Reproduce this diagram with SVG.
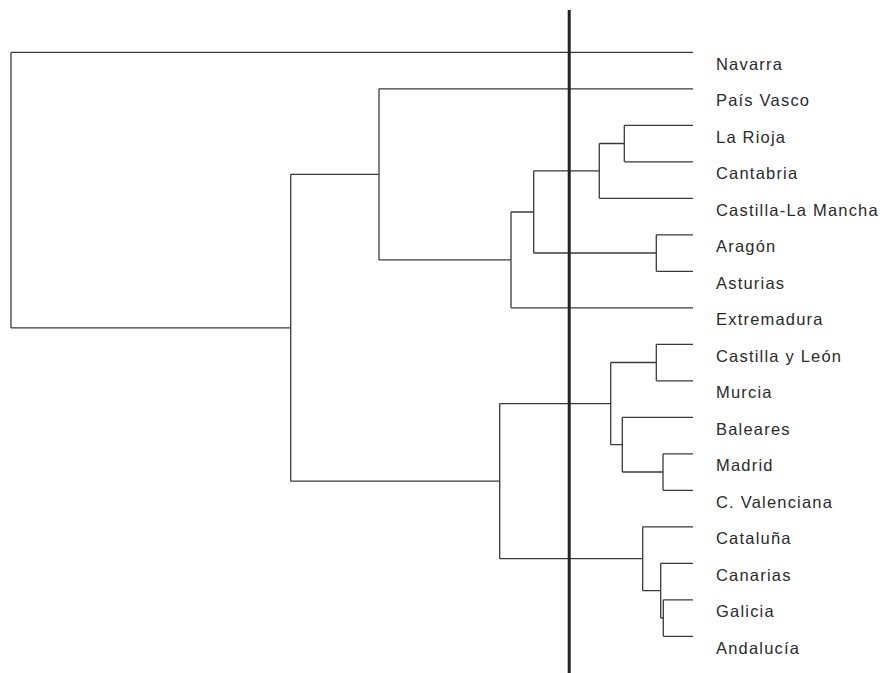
<svg xmlns="http://www.w3.org/2000/svg" width="884" height="673" viewBox="0 0 884 673">
<style>
.br{fill:none;stroke:#3a3a3a;stroke-width:1.3}
.cut{stroke:#222;stroke-width:3}
.lbl{font-family:"Liberation Sans",Arial,sans-serif;font-size:16.5px;letter-spacing:1.2px;fill:#2a2a2a}
</style>
<rect width="884" height="673" fill="#fff"/>
<g id="connectors">
<path class="br" d="M11,52.3H693 M379,88.8H693 M624.3,125.3H693 M624.3,161.8H693 M599.3,198.3H693 M656.3,234.8H693 M656.3,271.3H693 M511,307.8H693 M656.3,344.3H693 M656.3,380.8H693 M622.3,417.3H693 M663,453.8H693 M663,490.3H693 M642.7,526.8H693 M660.7,563.3H693 M663.3,599.8H693 M663.3,636.3H693"/>
<path class="br" d="M624.3,125.3V161.8 M599.3,143.5H624.3 M599.3,143.5V198.3 M533.7,170.9H599.3 M656.3,234.8V271.3 M533.7,253H656.3 M533.7,170.9V253 M511,212H533.7 M511,212V307.8 M379,259.9H511 M379,88.8V259.9 M290.7,174.4H379"/>
<path class="br" d="M656.3,344.3V380.8 M610.7,362.5H656.3 M663,453.8V490.3 M622.3,472H663 M622.3,417.3V472 M610.7,444.7H622.3 M610.7,362.5V444.7 M499.7,403.6H610.7 M663.3,599.8V636.3 M660.7,618H663.3 M660.7,563.3V618 M642.7,590.7H660.7 M642.7,526.8V590.7 M499.7,558.7H642.7 M499.7,403.6V558.7 M290.7,481.2H499.7 M290.7,174.4V481.2 M11,327.8H290.7 M11,52.3V327.8"/>
<line class="cut" x1="569.2" y1="10" x2="569.2" y2="673"/>
</g>
<g id="navarra"><text class="lbl" x="716" y="69.5">Navarra</text></g>
<g id="pais-vasco"><text class="lbl" x="716" y="106">País Vasco</text></g>
<g id="la-rioja"><text class="lbl" x="716" y="142.5">La Rioja</text></g>
<g id="cantabria"><text class="lbl" x="716" y="179">Cantabria</text></g>
<g id="castilla-la-mancha"><text class="lbl" x="716" y="215.5">Castilla-La Mancha</text></g>
<g id="aragon"><text class="lbl" x="716" y="252">Aragón</text></g>
<g id="asturias"><text class="lbl" x="716" y="288.5">Asturias</text></g>
<g id="extremadura"><text class="lbl" x="716" y="325">Extremadura</text></g>
<g id="castilla-y-leon"><text class="lbl" x="716" y="361.5">Castilla y León</text></g>
<g id="murcia"><text class="lbl" x="716" y="398">Murcia</text></g>
<g id="baleares"><text class="lbl" x="716" y="434.5">Baleares</text></g>
<g id="madrid"><text class="lbl" x="716" y="471">Madrid</text></g>
<g id="c-valenciana"><text class="lbl" x="716" y="507.5">C. Valenciana</text></g>
<g id="cataluna"><text class="lbl" x="716" y="544">Cataluña</text></g>
<g id="canarias"><text class="lbl" x="716" y="580.5">Canarias</text></g>
<g id="galicia"><text class="lbl" x="716" y="617">Galicia</text></g>
<g id="andalucia"><text class="lbl" x="716" y="653.5">Andalucía</text></g>
</svg>
